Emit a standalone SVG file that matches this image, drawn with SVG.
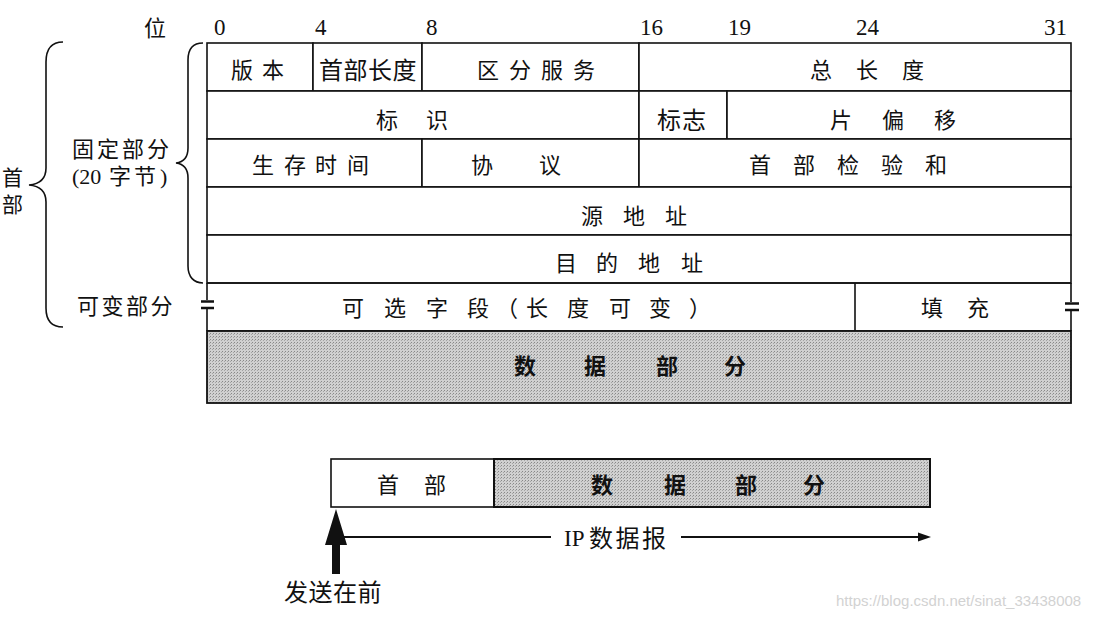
<svg xmlns="http://www.w3.org/2000/svg" width="1105" height="619" viewBox="0 0 1105 619">
<style>
.cj{font-family:"Noto Sans CJK SC","Noto Sans CJK TC",sans-serif;font-size:22px;fill:#111}
.b{font-weight:bold}
.num{font-family:"Liberation Serif",serif;font-size:23px;fill:#111}
.ln{stroke:#111;stroke-width:1.6;fill:none}
.cell{fill:#fff;stroke:#111;stroke-width:1.6}
</style>
<defs>
<pattern id="ht" width="3" height="3" patternUnits="userSpaceOnUse">
<rect width="3" height="3" fill="#d0d0d0"/>
<rect x="0" y="0" width="1" height="1" fill="#888"/>
<rect x="2" y="1" width="1" height="1" fill="#a4a4a4"/>
</pattern>
</defs>
<rect width="1105" height="619" fill="#fff"/>

<g id="bit-scale">
<text class="cj" x="144" y="36">位</text>
<text class="num" x="214" y="35">0</text>
<text class="num" x="315" y="35">4</text>
<text class="num" x="426" y="35">8</text>
<text class="num" x="640" y="35">16</text>
<text class="num" x="728" y="35">19</text>
<text class="num" x="856" y="35">24</text>
<text class="num" x="1044" y="35">31</text>
</g>

<g id="header-labels">
<path class="ln" d="M63,42 C52,42 46,48 46,62 L46,168 C46,178 40,184 29,185 C40,186 46,192 46,202 L46,308 C46,321 52,327 63,327"/>
<path class="ln" d="M203,43 C194,43 188,48 188,60 L188,148 C188,157 184,162 176,163 C184,164 188,169 188,178 L188,266 C188,277 194,283 203,283"/>
<text class="cj" style="font-size:21px"><tspan x="2" y="185">首</tspan><tspan x="2" y="212">部</tspan></text>
<text class="cj"><tspan x="72 97 122 147" y="157">固定部分</tspan><tspan x="72" y="184" style="font-family:'Liberation Serif',serif">(20</tspan><tspan x="109 134" y="184">字节</tspan><tspan x="160" y="184" style="font-family:'Liberation Serif',serif">)</tspan></text>
<text class="cj" x="77 101.5 126 150.5" y="314">可变部分</text>
</g>

<g id="row1">
<rect class="cell" x="207" y="43" width="106" height="48"/>
<rect class="cell" x="313" y="43" width="109" height="48"/>
<rect class="cell" x="422" y="43" width="217" height="48"/>
<rect class="cell" x="639" y="43" width="432" height="48"/>
<text class="cj" x="231 262" y="78">版本</text>
<text class="cj" style="font-size:24px" x="319 343.5 368 392.5" y="79">首部长度</text>
<text class="cj" x="477 509 541 573" y="78">区分服务</text>
<text class="cj" x="810 856 902" y="78">总长度</text>
</g>

<g id="row2">
<rect class="cell" x="207" y="91" width="432" height="48"/>
<rect class="cell" x="639" y="91" width="88" height="48"/>
<rect class="cell" x="727" y="91" width="344" height="48"/>
<text class="cj" x="376 426" y="128">标识</text>
<text class="cj" style="font-size:24px" x="657 682" y="129">标志</text>
<text class="cj" x="830 882 934" y="128">片偏移</text>
</g>

<g id="row3">
<rect class="cell" x="207" y="139" width="215" height="48"/>
<rect class="cell" x="422" y="139" width="217" height="48"/>
<rect class="cell" x="639" y="139" width="432" height="48"/>
<text class="cj" x="252 284 315 347" y="173">生存时间</text>
<text class="cj" x="471 539" y="173">协议</text>
<text class="cj" x="749 793 837 881 925" y="173">首部检验和</text>
</g>

<g id="row4">
<rect class="cell" x="207" y="187" width="864" height="48"/>
<text class="cj" x="581 623 665" y="224">源地址</text>
</g>

<g id="row5">
<rect class="cell" x="207" y="235" width="864" height="48"/>
<text class="cj" x="555 596 638 681" y="271">目的地址</text>
</g>

<g id="row6">
<path class="ln" d="M207,283 L1071,283 M207,331 L1071,331 M855,283 L855,331"/>
<path class="ln" d="M207,283 L207,300 M207,309 L207,331 M1071,283 L1071,302 M1071,311 L1071,331"/>
<path stroke="#111" stroke-width="2.6" d="M201,301.5 L214,301.5 M201,308 L214,308 M1065,303.5 L1079,303.5 M1065,310 L1079,310"/>
<text class="cj" x="342 384 426 467 496 526 567 609 649 689" y="316">可选字段（长度可变）</text>
<text class="cj" x="921 967" y="316">填充</text>
</g>

<g id="data">
<rect x="207" y="331" width="864" height="72" fill="url(#ht)" stroke="#111" stroke-width="1.8"/>
<text class="cj b" x="514 584 656 724" y="374">数据部分</text>
</g>

<g id="datagram">
<rect class="cell" x="331" y="459" width="163" height="48" stroke-width="2"/>
<rect x="494" y="459" width="436" height="48" fill="url(#ht)" stroke="#111" stroke-width="2"/>
<text class="cj" x="377 424" y="493">首部</text>
<text class="cj b" x="591 664 735 803" y="493">数据部分</text>
</g>

<g id="connectors">
<polygon points="336,509 347,545 340,545 340,574 332,574 332,545 325,545" fill="#111"/>
<path stroke="#111" stroke-width="2" d="M343,537 L551,537 M681,537 L921,537"/>
<polygon points="931,537 918,532.5 918,541.5" fill="#111"/>
</g>

<g id="labels">
<text class="num" x="564" y="546">IP</text>
<text class="cj" style="font-size:24px" x="589 615.5 642" y="547">数据报</text>
<text class="cj" style="font-size:24px" x="284 308.5 333 357.5" y="601">发送在前</text>
<text x="836" y="606" style="font-family:'Liberation Sans',sans-serif;font-size:15px;fill:#d2d2d2">https://blog.csdn.net/sinat_33438008</text>
</g>
</svg>
